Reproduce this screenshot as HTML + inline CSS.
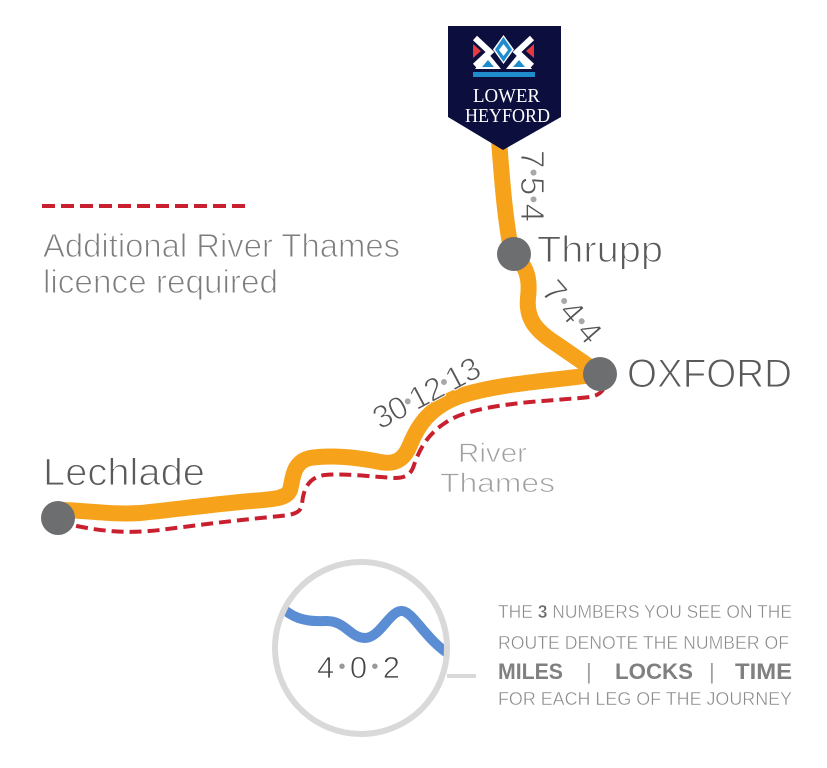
<!DOCTYPE html>
<html>
<head>
<meta charset="utf-8">
<style>
  html,body{margin:0;padding:0;background:#fff;}
  svg{display:block;}
  .sans{font-family:"Liberation Sans", sans-serif;}
  .serif{font-family:"Liberation Serif", serif;}
</style>
</head>
<body>
<svg width="827" height="768" viewBox="0 0 827 768" xmlns="http://www.w3.org/2000/svg">
  <rect x="0" y="0" width="827" height="768" fill="#ffffff"/>

  <!-- Legend dashed line -->
  <line x1="42" y1="206" x2="250" y2="206" stroke="#c9202f" stroke-width="4" stroke-dasharray="13 6"/>
  <text class="sans" x="43" y="257" font-size="33" fill="#7d7d7d" stroke="#fff" stroke-width="1" textLength="357" lengthAdjust="spacingAndGlyphs">Additional River Thames</text>
  <text class="sans" x="43" y="293" font-size="33" fill="#7d7d7d" stroke="#fff" stroke-width="1" textLength="235" lengthAdjust="spacingAndGlyphs">licence required</text>

  <!-- Red dashed river route -->
  <path d="M 604 388 C 600 396, 592 397, 580 398 L 530 402 C 490 406, 460 412, 445 423 C 428 434, 420 448, 414 465 C 411 475, 405 478, 395 478 C 375 477, 345 473, 325 475 C 308 477, 303 490, 302 505 C 300 515, 290 515, 270 517 C 230 521, 190 526, 160 530 C 125 534, 100 531, 72 525"
        fill="none" stroke="#c9202f" stroke-width="4" stroke-dasharray="12 6"/>

  <!-- Orange routes -->
  <g fill="none" stroke="#f7a21b" stroke-width="16" stroke-linecap="round" stroke-linejoin="round">
    <path d="M 499 140 C 502 180, 505 220, 512 254"/>
    <path d="M 514 254 C 528 268, 530 280, 528 298 C 526 318, 535 330, 555 343 L 600 374"/>
    <path d="M 600 374 C 560 380, 500 383, 460 396 C 430 407, 418 425, 410 445 C 404 460, 395 465, 380 462 C 355 457, 330 455, 310 458 C 292 462, 293 480, 290 490 C 286 500, 270 499, 240 502 C 200 506, 170 510, 140 513 C 110 515, 85 510, 58 510"/>
  </g>

  <!-- Banner -->
  <polygon points="448,26 561,26 561,117 503,150 448,117" fill="#0c0e3e"/>
  <!-- Crown -->
  <g>
    <polyline points="475,38 490,52 475,66" fill="none" stroke="#ffffff" stroke-width="6"/>
    <polygon points="473,44 481,51 473,58" fill="#e23a3f"/>
    <polygon points="488,53 475,69 501,69" fill="#ffffff"/>
    <polygon points="488,60 482,67 494,67" fill="#1f8ccc"/>
  </g>
  <g transform="translate(1007,0) scale(-1,1)">
    <polyline points="475,38 490,52 475,66" fill="none" stroke="#ffffff" stroke-width="6"/>
    <polygon points="473,44 481,51 473,58" fill="#e23a3f"/>
    <polygon points="488,53 475,69 501,69" fill="#ffffff"/>
    <polygon points="488,60 482,67 494,67" fill="#1f8ccc"/>
  </g>
  <polygon points="503.5,35 514,49.5 503.5,64 493,49.5" fill="#ffffff"/>
  <polygon points="503.5,37 512,49.5 503.5,62 495,49.5" fill="#1f8ccc"/>
  <polygon points="503.5,44 508,50 503.5,56 499,50" fill="#ffffff"/>
  <rect x="473" y="72" width="62" height="5" fill="#1f8ccc"/>
  <text class="serif" x="473" y="102" font-size="20" fill="#ffffff" textLength="67" lengthAdjust="spacingAndGlyphs">LOWER</text>
  <text class="serif" x="465" y="122" font-size="20" fill="#ffffff" textLength="85" lengthAdjust="spacingAndGlyphs">HEYFORD</text>

  <!-- Stations -->
  <circle cx="514" cy="254" r="17" fill="#6d6e70"/>
  <circle cx="600" cy="374" r="17" fill="#6d6e70"/>
  <circle cx="58" cy="518" r="17" fill="#6d6e70"/>

  <!-- Station labels -->
  <text class="sans" x="537" y="262" font-size="37" fill="#5a5a5a" stroke="#fff" stroke-width="1.1" textLength="126" lengthAdjust="spacingAndGlyphs">Thrupp</text>
  <text class="sans" x="627" y="387" font-size="40" fill="#5a5a5a" stroke="#fff" stroke-width="1.1" textLength="165" lengthAdjust="spacingAndGlyphs">OXFORD</text>
  <text class="sans" x="43" y="485" font-size="38" fill="#5a5a5a" stroke="#fff" stroke-width="1.1" textLength="162" lengthAdjust="spacingAndGlyphs">Lechlade</text>

  <text class="sans" x="458" y="462" font-size="27" fill="#a0a0a0" stroke="#fff" stroke-width="0.8" textLength="69" lengthAdjust="spacingAndGlyphs">River</text>
  <text class="sans" x="440" y="492" font-size="27" fill="#a0a0a0" stroke="#fff" stroke-width="0.8" textLength="115" lengthAdjust="spacingAndGlyphs">Thames</text>

  <!-- Leg labels -->
  <text class="sans" transform="translate(521,150) rotate(90)" x="0" y="0" font-size="33" fill="#555" stroke="#fff" stroke-width="0.9" textLength="72" lengthAdjust="spacing">7<tspan fill="#a8a8a8" stroke="none" font-size="22" dy="-5">•</tspan><tspan dy="5">5</tspan><tspan fill="#a8a8a8" stroke="none" font-size="22" dy="-5">•</tspan><tspan dy="5">4</tspan></text>
  <text class="sans" transform="translate(540,292) rotate(49)" x="0" y="0" font-size="33" fill="#555" stroke="#fff" stroke-width="0.9" textLength="72" lengthAdjust="spacing">7<tspan fill="#a8a8a8" stroke="none" font-size="22" dy="-5">•</tspan><tspan dy="5">4</tspan><tspan fill="#a8a8a8" stroke="none" font-size="22" dy="-5">•</tspan><tspan dy="5">4</tspan></text>
  <text class="sans" transform="translate(380,430) rotate(-28)" x="0" y="0" font-size="32" fill="#555" stroke="#fff" stroke-width="0.9" textLength="117" lengthAdjust="spacing">30<tspan fill="#a8a8a8" stroke="none" font-size="22" dy="-5">•</tspan><tspan dy="5">12</tspan><tspan fill="#a8a8a8" stroke="none" font-size="22" dy="-5">•</tspan><tspan dy="5">13</tspan></text>

  <!-- Key circle -->
  <defs>
    <clipPath id="kc"><circle cx="361" cy="648" r="84"/></clipPath>
  </defs>
  <path clip-path="url(#kc)" d="M 278 603 C 290 618, 305 622, 325 621 C 345 620, 350 638, 365 638 C 380 638, 390 610, 402 611 C 414 612, 425 640, 452 656"
        fill="none" stroke="#5a8dd3" stroke-width="10" stroke-linecap="round"/>
  <circle cx="361" cy="648" r="86" fill="none" stroke="#d9d9d9" stroke-width="6"/>
  <line x1="447" y1="676" x2="476" y2="676" stroke="#d9d9d9" stroke-width="4"/>
  <text class="sans" x="317" y="678" font-size="31" fill="#444" stroke="#fff" stroke-width="0.8" textLength="83" lengthAdjust="spacing">4<tspan fill="#999" stroke="none" font-size="20" dy="-5">•</tspan><tspan dy="5">0</tspan><tspan fill="#999" stroke="none" font-size="20" dy="-5">•</tspan><tspan dy="5">2</tspan></text>

  <!-- Key text -->
  <text class="sans" x="498" y="618" font-size="18" fill="#8a8a8a" stroke="#fff" stroke-width="0.4" textLength="294" lengthAdjust="spacingAndGlyphs">THE <tspan font-weight="bold" fill="#6a6a6a">3</tspan> NUMBERS YOU SEE ON THE</text>
  <text class="sans" x="498" y="649" font-size="18" fill="#8a8a8a" stroke="#fff" stroke-width="0.4" textLength="291" lengthAdjust="spacingAndGlyphs">ROUTE DENOTE THE NUMBER OF</text>
  <g class="sans" font-size="22" font-weight="bold" fill="#808080">
    <text x="498" y="679" textLength="65" lengthAdjust="spacingAndGlyphs">MILES</text>
    <text x="586" y="679" font-weight="normal" fill="#a0a0a0">|</text>
    <text x="615" y="679" textLength="78" lengthAdjust="spacingAndGlyphs">LOCKS</text>
    <text x="709" y="679" font-weight="normal" fill="#a0a0a0">|</text>
    <text x="735" y="679" textLength="57" lengthAdjust="spacingAndGlyphs">TIME</text>
  </g>
  <text class="sans" x="498" y="705" font-size="18" fill="#8a8a8a" stroke="#fff" stroke-width="0.4" textLength="294" lengthAdjust="spacingAndGlyphs">FOR EACH LEG OF THE JOURNEY</text>
</svg>
</body>
</html>
